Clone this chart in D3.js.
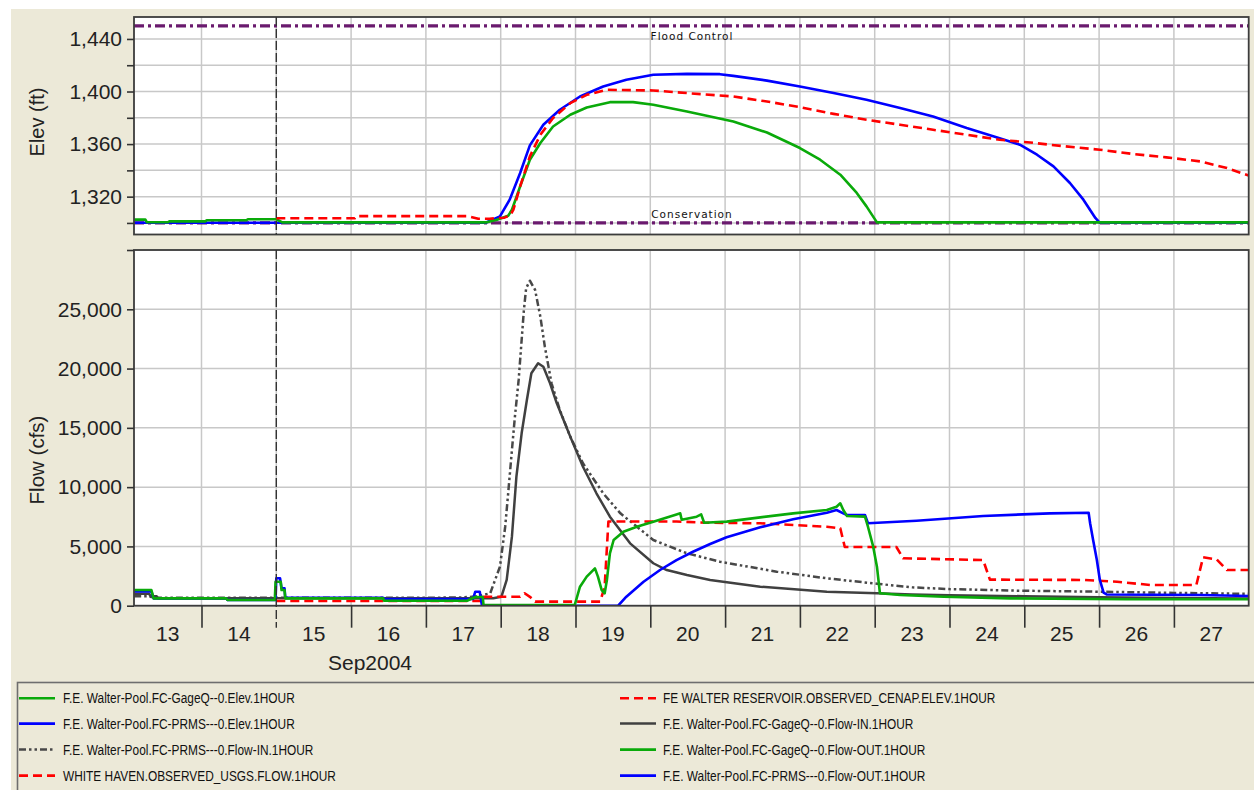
<!DOCTYPE html>
<html>
<head>
<meta charset="utf-8">
<script src="https://cdn.jsdelivr.net/npm/d3@7"></script>
<style>
  html, body { margin: 0; padding: 0; background: #ffffff; }
  svg { display: block; font-family: "Liberation Sans", Arial, sans-serif; }
</style>
</head>
<body>
<svg id="chart" width="1254" height="790"></svg>
<script>
// Times are fractional days of September 2004 (UTC); e.g. 18.5 = Sep 18, 12:00.
const timeStart = 13.0976;
const timeEnd = 28.0;
const dayLabels = ["13", "14", "15", "16", "17", "18", "19", "20", "21", "22", "23", "24", "25", "26", "27"];
const monthLabel = "Sep2004";
const forecastDay = 15;

const elevTicks = [1300, 1320, 1340, 1360, 1380, 1400, 1420, 1440];
const elevLabelTicks = [1320, 1360, 1400, 1440];
const flowTicks = [0, 5000, 10000, 15000, 20000, 25000, 30000];
const flowLabelTicks = [0, 5000, 10000, 15000, 20000, 25000];

const floodControlElev = 1450;
const conservationElev = 1300;
const guideLabels = ["Flood Control", "Conservation"];

// Pool elevation, ft
const gageElev = [
  [13.10, 1302.5], [13.25, 1302.5], [13.27, 1300.5], [13.55, 1300.5], [13.57, 1301.2], [14.05, 1301.2],
  [14.07, 1302.0], [14.60, 1302.0], [14.62, 1302.8], [15.00, 1302.8], [15.08, 1300.4], [17.80, 1300.4],
  [17.95, 1302.5], [18.10, 1305.5], [18.15, 1310.0], [18.20, 1318.0], [18.26, 1327.8], [18.39, 1348.1],
  [18.53, 1360.8], [18.70, 1373.4], [18.93, 1382.3], [19.15, 1387.8], [19.46, 1391.9], [19.77, 1391.9],
  [20.04, 1389.9], [20.49, 1384.8], [20.80, 1381.0], [21.11, 1377.2], [21.56, 1368.8], [22.00, 1357.0],
  [22.27, 1348.1], [22.54, 1336.7], [22.76, 1322.8], [22.89, 1312.6], [23.03, 1300.4], [28.00, 1300.4]
];
const prmsElev = [
  [13.10, 1300.1], [17.80, 1300.1], [17.99, 1305.0], [18.12, 1317.7], [18.26, 1338.0], [18.39, 1359.0],
  [18.57, 1374.7], [18.79, 1386.1], [19.06, 1396.2], [19.37, 1403.8], [19.68, 1408.9], [20.04, 1412.7],
  [20.49, 1413.4], [20.93, 1413.2], [21.11, 1411.9], [21.56, 1408.3], [22.00, 1403.8], [22.45, 1398.8],
  [22.89, 1393.7], [23.34, 1387.4], [23.78, 1381.0], [24.23, 1372.2], [24.67, 1364.5], [24.94, 1359.5],
  [25.17, 1351.9], [25.39, 1343.0], [25.61, 1330.4], [25.79, 1317.7], [25.95, 1303.8], [26.01, 1300.1],
  [28.00, 1300.1]
];
const observedElev = [
  [15.00, 1303.6], [16.05, 1303.6], [16.07, 1305.2], [17.55, 1305.2], [17.70, 1303.2], [17.85, 1303.2],
  [18.05, 1304.0], [18.13, 1306.0], [18.17, 1310.1], [18.26, 1327.8], [18.39, 1350.6], [18.53, 1367.1],
  [18.70, 1379.8], [18.93, 1391.1], [19.15, 1397.5], [19.42, 1401.3], [20.04, 1400.8], [20.49, 1398.8],
  [21.11, 1396.2], [21.56, 1392.4], [22.00, 1388.1], [22.45, 1383.0], [22.89, 1378.5], [23.34, 1374.7],
  [23.78, 1370.9], [24.23, 1367.1], [24.67, 1363.3], [25.08, 1361.2], [25.34, 1359.5], [26.01, 1355.7],
  [26.46, 1352.4], [26.90, 1349.9], [27.35, 1346.8], [27.71, 1341.8], [28.00, 1336.0]
];

// Flows, cfs
const gageFlowIn = [
  [13.10, 1000], [13.30, 1000], [13.32, 800], [13.40, 800], [13.42, 620], [17.90, 620], [18.01, 760],
  [18.08, 2170], [18.15, 5820], [18.21, 10880], [18.28, 14540], [18.35, 17350], [18.41, 19600],
  [18.50, 20450], [18.57, 20160], [18.66, 18760], [18.75, 17070], [18.93, 14260], [19.10, 11720],
  [19.28, 9480], [19.46, 7510], [19.73, 5260], [20.04, 3580], [20.22, 3010], [20.49, 2590], [20.80, 2170],
  [21.47, 1600], [22.36, 1180], [23.03, 1040], [23.50, 950], [24.00, 880], [25.00, 800], [26.00, 720],
  [27.00, 650], [28.00, 600]
];
const prmsFlowIn = [
  [13.10, 800], [13.30, 800], [13.35, 680], [17.20, 680], [17.50, 700], [17.70, 800], [17.86, 1050],
  [17.99, 3290], [18.06, 6660], [18.10, 9480], [18.15, 13130], [18.19, 15940], [18.24, 19040],
  [18.27, 21570], [18.31, 24940], [18.34, 26770], [18.39, 27410], [18.46, 26630], [18.53, 24380],
  [18.59, 21850], [18.68, 18760], [18.79, 16510], [18.93, 14260], [19.10, 12010], [19.37, 9480],
  [19.60, 7790], [20.04, 5540], [20.49, 4420], [20.93, 3710], [21.69, 2870], [22.36, 2310],
  [23.03, 1850], [23.50, 1550], [24.00, 1400], [24.90, 1270], [26.00, 1180], [27.00, 1080], [28.00, 1000]
];
const whiteHavenFlow = [
  [15.00, 400], [17.75, 400], [17.77, 760], [18.26, 760], [18.32, 1050], [18.40, 700], [18.46, 340],
  [19.33, 340], [19.39, 1600], [19.44, 7100], [20.35, 7100], [20.75, 7000], [21.47, 6950], [21.91, 6810],
  [22.36, 6660], [22.54, 6530], [22.60, 4950], [23.29, 4950], [23.38, 4000], [24.45, 3850], [24.54, 2200],
  [25.79, 2170], [26.24, 2020], [26.68, 1750], [27.30, 1750], [27.39, 4080], [27.57, 3910], [27.71, 3010],
  [28.00, 3010]
];
const gageFlowOut = [
  [13.10, 1320], [13.33, 1320], [13.36, 620], [14.33, 620], [14.35, 480], [14.98, 480], [14.99, 2020],
  [15.06, 2020], [15.07, 1320], [15.11, 1320], [15.12, 620], [16.43, 620], [16.44, 420], [17.55, 420],
  [17.66, 730], [17.76, 730], [17.77, 60], [18.99, 60], [19.06, 1600], [19.15, 2450], [19.26, 3150],
  [19.30, 2450], [19.35, 1320], [19.39, 1050], [19.42, 2170], [19.46, 4420], [19.51, 5540], [19.64, 6240],
  [19.82, 6660], [20.04, 7090], [20.35, 7700], [20.40, 7790], [20.42, 7250], [20.62, 7510], [20.68, 7700],
  [20.72, 7000], [21.02, 7090], [21.47, 7450], [21.91, 7790], [22.36, 8070], [22.49, 8350], [22.54, 8640],
  [22.58, 8070], [22.63, 7570], [22.87, 7510], [22.91, 6660], [22.98, 4980], [23.03, 3290], [23.07, 1050],
  [23.34, 900], [23.92, 760], [24.81, 620], [26.37, 540], [28.00, 540]
];
const prmsFlowOut = [
  [13.10, 1200], [13.33, 1200], [13.36, 620], [14.33, 620], [14.35, 480], [14.99, 480], [15.00, 2310],
  [15.05, 2310], [15.07, 1470], [15.11, 1470], [15.12, 670], [16.43, 670], [16.44, 560], [17.63, 560],
  [17.66, 1180], [17.72, 1180], [17.75, 0], [19.57, 0], [19.68, 760], [19.91, 2020], [20.13, 3010],
  [20.35, 3850], [20.57, 4550], [20.80, 5200], [21.02, 5770], [21.47, 6610], [21.91, 7290], [22.36, 7840],
  [22.49, 8070], [22.58, 7790], [22.63, 7650], [22.87, 7650], [22.91, 6950], [23.56, 7170], [24.45, 7570],
  [25.34, 7790], [25.86, 7840], [25.88, 6950], [25.92, 5540], [25.97, 3850], [26.01, 2170], [26.06, 1100],
  [26.10, 950], [27.35, 900], [28.00, 820]
];

const legendNames = [
  "F.E. Walter-Pool.FC-GageQ--0.Elev.1HOUR",
  "F.E. Walter-Pool.FC-PRMS---0.Elev.1HOUR",
  "F.E. Walter-Pool.FC-PRMS---0.Flow-IN.1HOUR",
  "WHITE HAVEN.OBSERVED_USGS.FLOW.1HOUR",
  "FE WALTER RESERVOIR.OBSERVED_CENAP.ELEV.1HOUR",
  "F.E. Walter-Pool.FC-GageQ--0.Flow-IN.1HOUR",
  "F.E. Walter-Pool.FC-GageQ--0.Flow-OUT.1HOUR",
  "F.E. Walter-Pool.FC-PRMS---0.Flow-OUT.1HOUR"
];

// ---- line styles ----
const GREEN = "#0aaa0a", BLUE = "#0000ff", RED = "#ff0000", GRAY = "#404040", PURPLE = "#6a1a6e";
const styles = {
  green:  { stroke: GREEN, width: 2.6, dash: null },
  blue:   { stroke: BLUE, width: 2.6, dash: null },
  red:    { stroke: RED, width: 2.6, dash: "9,5" },
  gray:   { stroke: GRAY, width: 2.5, dash: null },
  grayDD: { stroke: "#484848", width: 2.5, dash: "7,3,2.5,3,2.5,3" },
  guide:  { stroke: PURPLE, width: 3.2, dash: "10,4,3,4" }
};

const svg = d3.select("#chart");
const toDate = d => new Date(Date.UTC(2004, 8, 1) + (d - 1) * 864e5);

// page background
svg.append("rect").attr("width", 1254).attr("height", 790).attr("fill", "#ffffff");
svg.append("rect").attr("x", 11).attr("y", 9).attr("width", 1243).attr("height", 781).attr("fill", "#ece9d8");

const left = 134, right = 1248.7;
const top1 = 17, bot1 = 234.5, top2 = 250, bot2 = 605.7;

const x = d3.scaleUtc().domain([toDate(timeStart), toDate(timeEnd)]).range([left, right]);
const yE = d3.scaleLinear().domain([1291.2, 1456.7]).range([bot1, top1]);
const yF = d3.scaleLinear().domain([0, 30000]).range([bot2, top2]);

const dayBounds = d3.range(14, 28);

function panel(id, y0, y1, yScale, ticks) {
  const g = svg.append("g");
  g.append("rect").attr("x", left).attr("y", y0).attr("width", right - left).attr("height", y1 - y0).attr("fill", "#ffffff");
  // grid
  g.selectAll(".vg").data(dayBounds).join("line")
    .attr("x1", d => x(toDate(d))).attr("x2", d => x(toDate(d)))
    .attr("y1", y0).attr("y2", y1)
    .attr("stroke", "#c8c8c8").attr("stroke-width", 1.5);
  g.selectAll(".hg").data(ticks).join("line")
    .attr("x1", left).attr("x2", right)
    .attr("y1", d => yScale(d)).attr("y2", d => yScale(d))
    .attr("stroke", "#c8c8c8").attr("stroke-width", 1.5);
  svg.append("clipPath").attr("id", id).append("rect")
    .attr("x", left).attr("y", y0).attr("width", right - left).attr("height", y1 - y0);
  return svg.append("g").attr("clip-path", `url(#${id})`);
}

function drawLine(g, data, yScale, st) {
  const line = d3.line().x(d => x(toDate(d[0]))).y(d => yScale(d[1]));
  g.append("path").datum(data).attr("d", line)
    .attr("fill", "none").attr("stroke", st.stroke).attr("stroke-width", st.width)
    .attr("stroke-linejoin", "round")
    .attr("stroke-dasharray", st.dash);
}

// ---- elevation panel ----
const sTop = panel("clipTop", top1, bot1, yE, elevTicks);
[floodControlElev, conservationElev].forEach(v =>
  drawLine(sTop, [[timeStart, v], [timeEnd, v]], yE, styles.guide));
drawLine(sTop, prmsElev, yE, styles.blue);
drawLine(sTop, gageElev, yE, styles.green);
drawLine(sTop, observedElev, yE, styles.red);

const guideText = svg.append("g")
  .attr("font-family", "'DejaVu Sans', Verdana, sans-serif")
  .attr("font-size", 10.5).attr("letter-spacing", "1px").attr("fill", "#111").attr("text-anchor", "middle");
guideText.append("text").attr("x", 692).attr("y", yE(floodControlElev) + 14.5).text(guideLabels[0]);
guideText.append("text").attr("x", 692).attr("y", yE(conservationElev) - 5).text(guideLabels[1]);

// ---- flow panel ----
const sBot = panel("clipBot", top2, bot2, yF, flowTicks);
drawLine(sBot, prmsFlowIn, yF, styles.grayDD);
drawLine(sBot, gageFlowIn, yF, styles.gray);
drawLine(sBot, whiteHavenFlow, yF, styles.red);
drawLine(sBot, prmsFlowOut, yF, styles.blue);
drawLine(sBot, gageFlowOut, yF, styles.green);

// frames
[[top1, bot1], [top2, bot2]].forEach(([a, b]) => {
  svg.append("rect").attr("x", left).attr("y", a).attr("width", right - left).attr("height", b - a)
    .attr("fill", "none").attr("stroke", "#3c3c3c").attr("stroke-width", 1.8);
});

// ---- axes ----
function styleAxis(g) {
  g.select(".domain").remove();
  g.attr("font-family", "'Liberation Sans', Arial, sans-serif").attr("font-size", 21);
  g.selectAll(".tick line").attr("stroke", "#333").attr("stroke-width", 1.6);
  g.selectAll(".tick text").attr("fill", "#222");
}
const fmt = d3.format(",");
svg.append("g").attr("transform", `translate(${left},0)`)
  .call(d3.axisLeft(yE).tickValues(elevTicks).tickSize(7).tickPadding(5)
    .tickFormat(v => elevLabelTicks.includes(v) ? fmt(v) : ""))
  .call(styleAxis);
svg.append("g").attr("transform", `translate(${left},0)`)
  .call(d3.axisLeft(yF).tickValues(flowTicks).tickSize(7).tickPadding(5)
    .tickFormat(v => flowLabelTicks.includes(v) ? fmt(v) : ""))
  .call(styleAxis);
svg.append("g").attr("transform", `translate(0,${bot2})`)
  .call(d3.axisBottom(x).tickValues(dayBounds.filter(d => d !== forecastDay).map(toDate))
    .tickSize(22).tickFormat(""))
  .call(styleAxis);

// day labels centred in each visible day
const labelG = svg.append("g").attr("font-size", 21).attr("fill", "#222").attr("text-anchor", "middle");
dayLabels.forEach(lbl => {
  const d = +lbl;
  const a = Math.max(d, timeStart), b = Math.min(d + 1, timeEnd);
  labelG.append("text").attr("x", (x(toDate(a)) + x(toDate(b))) / 2).attr("y", 641).text(lbl);
});
labelG.append("text").attr("x", 370).attr("y", 670).text(monthLabel);

// axis titles
svg.append("text").attr("transform", "translate(37,122) rotate(-90)")
  .attr("text-anchor", "middle").attr("dy", "0.35em").attr("font-size", 20).attr("fill", "#222").text("Elev (ft)");
svg.append("text").attr("transform", "translate(37,460) rotate(-90)")
  .attr("text-anchor", "middle").attr("dy", "0.35em").attr("font-size", 20.5).attr("fill", "#222").text("Flow (cfs)");

// forecast-time marker
const fx = x(toDate(forecastDay));
[[top1, bot1], [top2, bot2 + 22]].forEach(([a, b]) => {
  svg.append("line").attr("x1", fx).attr("x2", fx).attr("y1", a).attr("y2", b)
    .attr("stroke", "#333").attr("stroke-width", 1.4).attr("stroke-dasharray", "9,3");
});

// ---- legend ----
svg.append("rect").attr("x", 17.5).attr("y", 682.5).attr("width", 1260).attr("height", 130)
  .attr("fill", "none").attr("stroke", "#6e6e6e").attr("stroke-width", 1.6);
const legendStyles = [styles.green, styles.blue, styles.grayDD, styles.red,
                      styles.red, styles.gray, styles.green, styles.blue];
const legendRows = [698.3, 723.6, 749.6, 775.6];
const legendCols = [{ x: 19, tx: 63 }, { x: 620, tx: 663 }];
legendNames.forEach((name, i) => {
  const col = legendCols[Math.floor(i / 4)], ry = legendRows[i % 4];
  const st = legendStyles[i];
  svg.append("line").attr("x1", col.x).attr("x2", col.x + 36).attr("y1", ry).attr("y2", ry)
    .attr("stroke", st.stroke).attr("stroke-width", st.width).attr("stroke-dasharray", st.dash);
  svg.append("text").attr("transform", `translate(${col.tx},${ry + 5}) scale(0.82,1)`)
    .attr("font-size", 14.5).attr("fill", "#111").text(name);
});
</script>
</body>
</html>
